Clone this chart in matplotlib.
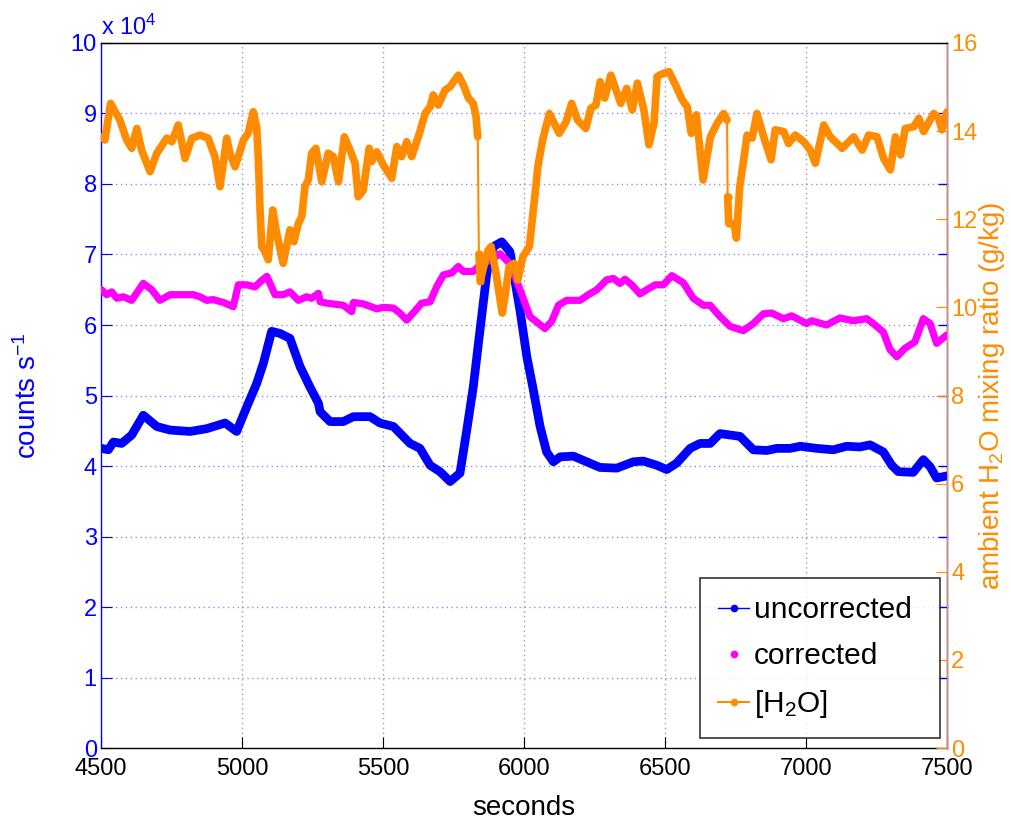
import numpy as np
import matplotlib
matplotlib.use("Agg")
import matplotlib.pyplot as plt
from matplotlib.lines import Line2D

plt.rcParams['font.family'] = ['Liberation Sans', 'DejaVu Sans']
plt.rcParams['mathtext.fontset'] = 'custom'
plt.rcParams['mathtext.rm'] = 'Liberation Sans'
plt.rcParams['mathtext.it'] = 'Liberation Sans:italic'

# ---------------- data ----------------
unc_t = [4502, 4526, 4544, 4573, 4609, 4650, 4698, 4745, 4816, 4875, 4940, 4981, 5017, 5052,
         5076, 5105, 5135, 5170, 5206, 5241, 5271, 5277, 5312, 5359, 5395, 5454, 5489, 5537,
         5596, 5631, 5667, 5702, 5738, 5773, 5797, 5820, 5844, 5868, 5891, 5921, 5950, 5986,
         6010, 6033, 6057, 6080, 6104, 6128, 6175, 6222, 6269, 6329, 6388, 6423, 6471, 6506,
         6541, 6589, 6624, 6660, 6695, 6766, 6813, 6861, 6896, 6943, 6979, 7038, 7097, 7144,
         7191, 7227, 7274, 7304, 7327, 7380, 7416, 7440, 7463, 7500]
unc_v = [4.25, 4.23, 4.34, 4.32, 4.44, 4.72, 4.56, 4.51, 4.49, 4.53, 4.61, 4.49, 4.84, 5.17,
         5.46, 5.91, 5.88, 5.81, 5.41, 5.12, 4.89, 4.77, 4.63, 4.63, 4.70, 4.70, 4.61, 4.56,
         4.32, 4.25, 4.01, 3.92, 3.78, 3.90, 4.51, 5.12, 5.93, 6.73, 7.11, 7.18, 7.04, 6.20,
         5.55, 5.08, 4.56, 4.20, 4.06, 4.13, 4.14, 4.06, 3.98, 3.97, 4.06, 4.07, 4.01, 3.95,
         4.04, 4.25, 4.32, 4.32, 4.46, 4.42, 4.23, 4.22, 4.25, 4.25, 4.28, 4.25, 4.23, 4.28,
         4.27, 4.30, 4.20, 4.01, 3.92, 3.91, 4.09, 3.99, 3.83, 3.86]

cor_t = [4502, 4520, 4538, 4556, 4579, 4609, 4650, 4680, 4709, 4745, 4827, 4851, 4875, 4898,
         4934, 4969, 4987, 5017, 5046, 5064, 5088, 5105, 5117, 5146, 5170, 5200, 5229, 5247,
         5271, 5277, 5300, 5359, 5389, 5395, 5430, 5478, 5501, 5537, 5560, 5584, 5607, 5637,
         5667, 5690, 5714, 5744, 5767, 5785, 5820, 5844, 5879, 5915, 5950, 5986, 6021, 6074,
         6098, 6122, 6151, 6199, 6228, 6258, 6293, 6317, 6340, 6358, 6382, 6411, 6435, 6465,
         6494, 6524, 6565, 6600, 6636, 6660, 6695, 6731, 6778, 6813, 6849, 6878, 6920, 6949,
         7002, 7020, 7073, 7120, 7168, 7215, 7239, 7274, 7298, 7322, 7351, 7386, 7416, 7440,
         7463, 7500]
cor_v = [6.50, 6.43, 6.47, 6.38, 6.40, 6.35, 6.59, 6.50, 6.35, 6.43, 6.43, 6.40, 6.35, 6.36,
         6.32, 6.26, 6.57, 6.57, 6.54, 6.61, 6.69, 6.54, 6.43, 6.43, 6.47, 6.35, 6.40, 6.38,
         6.45, 6.33, 6.31, 6.28, 6.19, 6.32, 6.30, 6.23, 6.25, 6.24, 6.17, 6.07, 6.17, 6.31,
         6.33, 6.54, 6.71, 6.74, 6.83, 6.76, 6.76, 6.85, 6.92, 7.01, 6.87, 6.50, 6.12, 5.95,
         6.05, 6.28, 6.35, 6.35, 6.43, 6.50, 6.64, 6.66, 6.59, 6.65, 6.57, 6.44, 6.50, 6.57,
         6.57, 6.70, 6.60, 6.38, 6.28, 6.28, 6.12, 5.98, 5.92, 6.02, 6.16, 6.17, 6.09, 6.13,
         6.02, 6.06, 6.00, 6.10, 6.06, 6.09, 6.02, 5.90, 5.65, 5.55, 5.67, 5.76, 6.09, 6.02,
         5.74, 5.86]

h2o_t = [4502, 4514, 4534, 4567, 4591, 4609, 4627, 4644, 4674, 4698, 4733, 4751, 4774, 4798,
         4822, 4851, 4880, 4904, 4922, 4946, 4957, 4975, 4987, 5005, 5022, 5040, 5052, 5058,
         5064, 5070, 5082, 5093, 5109, 5123, 5146, 5170, 5184, 5200, 5212, 5223, 5235, 5247,
         5262, 5283, 5306, 5324, 5342, 5363, 5383, 5401, 5412, 5430, 5451, 5460, 5478, 5501,
         5531, 5549, 5566, 5584, 5602, 5631, 5649, 5667, 5678, 5696, 5720, 5738, 5767, 5785,
         5803, 5820, 5830, 5836,
         5840, 5845, 5860, 5873, 5883, 5900, 5917, 5923, 5936, 5947, 5965, 5978, 5996, 6019,
         6037, 6049, 6066, 6090, 6125, 6149, 6169, 6190, 6219, 6237, 6255, 6270, 6286, 6308,
         6343, 6364, 6384, 6402, 6425, 6443, 6461, 6472, 6490, 6514, 6537, 6561, 6579, 6593,
         6611, 6635, 6661, 6685, 6708, 6720,
         6722, 6726, 6745, 6753, 6765, 6779, 6791, 6809, 6826, 6850, 6876, 6891, 6921, 6938,
         6962, 6992, 7015, 7033, 7063, 7086, 7128, 7169, 7199, 7222, 7252, 7275, 7299, 7317,
         7335, 7352, 7382, 7400, 7417, 7453, 7470, 7482, 7500]
h2o_v = [13.87, 13.80, 14.63, 14.25, 13.80, 13.61, 14.06, 13.57, 13.08, 13.50, 13.84, 13.76,
         14.14, 13.38, 13.84, 13.91, 13.84, 13.42, 12.74, 13.84, 13.50, 13.19, 13.42, 13.80,
         13.95, 14.44, 14.10, 13.35, 12.21, 11.38, 11.26, 11.08, 12.21, 11.68, 11.00, 11.76,
         11.49, 11.91, 12.06, 12.74, 12.89, 13.50, 13.61, 12.85, 13.50, 13.42, 12.85, 13.87,
         13.57, 13.27, 12.51, 12.66, 13.61, 13.31, 13.53, 13.23, 12.93, 13.65, 13.42, 13.76,
         13.42, 13.99, 14.40, 14.55, 14.82, 14.59, 14.93, 15.01, 15.27, 15.05, 14.75, 14.63,
         14.33, 13.87,
         11.20, 10.60, 11.00, 11.30, 11.38, 10.80, 10.10, 9.87, 10.40, 10.92, 11.00, 10.62,
         11.15, 11.38, 12.44, 13.19, 13.80, 14.40, 13.95, 14.21, 14.63, 14.25, 14.06, 14.52,
         14.59, 15.12, 14.75, 15.27, 14.63, 14.97, 14.48, 15.09, 14.48, 13.69, 14.18, 15.24,
         15.30, 15.35, 15.05, 14.71, 14.55, 13.95, 14.37, 12.89, 13.87, 14.18, 14.40, 14.25,
         12.51, 11.91, 11.90, 11.57, 12.74, 13.35, 13.91, 13.84, 14.40, 13.87, 13.35, 14.03,
         13.99, 13.72, 13.91, 13.76, 13.57, 13.27, 14.14, 13.87, 13.61, 13.87, 13.57, 13.91,
         13.87, 13.38, 13.12, 13.87, 13.46, 14.06, 14.10, 14.29, 13.99, 14.40, 14.30, 14.03,
         14.44]
# times after which the H2O record has a data gap (drawn as thin connector)
h2o_gaps = [5836, 6720]

left_ticks = list(range(0, 11))
right_ticks = list(range(0, 17, 2))
x_ticks = [4500, 5000, 5500, 6000, 6500, 7000, 7500]

BLUE = (0, 0, 1)
MAG = (1, 0, 1)
ORANGE = (1.0, 0.55, 0.0)

fig = plt.figure(figsize=(10.12, 8.22), dpi=100)
ax = fig.add_axes([0.0998, 0.0900, 0.836, 0.8577])
ax2 = ax.twinx()

# grid
for yv in left_ticks[1:-1]:
    ax.axhline(yv, color=(0.55, 0.55, 1.0), lw=1.0, ls=(0, (1, 2.5)), zorder=0)
for xv in x_ticks[1:-1]:
    ax.axvline(xv, color=(0.62, 0.62, 0.62), lw=1.0, ls=(0, (1, 2.5)), zorder=0)

ax.plot(unc_t, unc_v, color=BLUE, lw=6.3, solid_capstyle='round',
        solid_joinstyle='round', zorder=3)
ax.plot(cor_t, cor_v, color=MAG, lw=5.2, solid_capstyle='round', solid_joinstyle='round', zorder=3)

# H2O: thin line everywhere, thick where the data is dense
t_arr = np.array(h2o_t, dtype=float)
v_arr = np.array(h2o_v, dtype=float)
ax2.plot(t_arr, v_arr, color=ORANGE, lw=1.5, zorder=4)
tt, vv = [], []
for t, v in zip(h2o_t, h2o_v):
    tt.append(t); vv.append(v)
    if t in h2o_gaps:
        tt.append(np.nan); vv.append(np.nan)
ax2.plot(tt, vv, color=ORANGE, lw=5.5, solid_capstyle='round', solid_joinstyle='round', zorder=4)
for g in h2o_gaps:
    i = h2o_t.index(g)
    ax2.plot(h2o_t[i + 1:i + 3], h2o_v[i + 1:i + 3], ls='none', marker='o', ms=5,
             color=ORANGE, zorder=4)

ax.set_xlim(4500, 7500)
ax.set_ylim(0, 10)
ax2.set_ylim(0, 16)
ax.set_xticks(x_ticks)
ax.set_yticks(left_ticks)
ax2.set_yticks(right_ticks)
ax.set_xticklabels([str(x) for x in x_ticks])
ax.set_yticklabels([str(y) for y in left_ticks])
ax2.set_yticklabels([str(y) for y in right_ticks])

ax.tick_params(axis='x', direction='in', length=8, labelsize=17, colors='black', pad=7, top=False)
ax.tick_params(axis='y', direction='in', length=8, labelsize=17, colors=BLUE, pad=3)
ax2.tick_params(axis='y', direction='in', length=8, labelsize=17, colors=ORANGE, pad=3)

ax.spines['left'].set_color(BLUE)
ax.spines['bottom'].set_color('black')
ax.spines['top'].set_color('black')
ax2.spines['left'].set_visible(False)
ax2.spines['top'].set_color('black')
ax2.spines['bottom'].set_visible(False)
ax2.spines['right'].set_color((0.85, 0.55, 0.55))
for s in ax.spines.values():
    s.set_linewidth(1.0)

# mirrored blue ticks on right side
for yv in left_ticks[1:-1]:
    ax.plot([7500 - 30, 7500], [yv, yv], color=BLUE, lw=1.0, clip_on=False, zorder=2)

ax.text(0.0, 1.004, r'x 10$^{4}$', transform=ax.transAxes, ha='left', va='bottom',
        fontsize=17, color=BLUE)

ax.set_xlabel('seconds', fontsize=20, color='black', labelpad=11)
ax.set_ylabel(r'counts s$^{-1}$', fontsize=20, color=BLUE)
ax2.set_ylabel(r'ambient H$_2$O mixing ratio (g/kg)', fontsize=20, color=ORANGE)
ax.yaxis.set_label_coords(-0.0697, 0.5)
ax2.yaxis.set_label_coords(1.0350, 0.5)

handles = [
    Line2D([], [], color=BLUE, lw=1.0, marker='.', ms=9),
    Line2D([], [], color=MAG, lw=0, ls='none', marker='.', ms=9),
    Line2D([], [], color=ORANGE, lw=1.5, marker='.', ms=9),
]
leg = ax2.legend(handles, ['uncorrected', 'corrected', r'[H$_2$O]'], loc='lower left',
                 bbox_to_anchor=(0.708, 0.0142, 0.284, 0.227), mode='expand',
                 fontsize=21.5, frameon=True, fancybox=False,
                 edgecolor='black', handlelength=1.05, handletextpad=0.15, borderpad=0.6,
                 labelspacing=0.6, borderaxespad=0)
leg.get_frame().set_linewidth(1.2)

fig.savefig('out.png', dpi=100)
